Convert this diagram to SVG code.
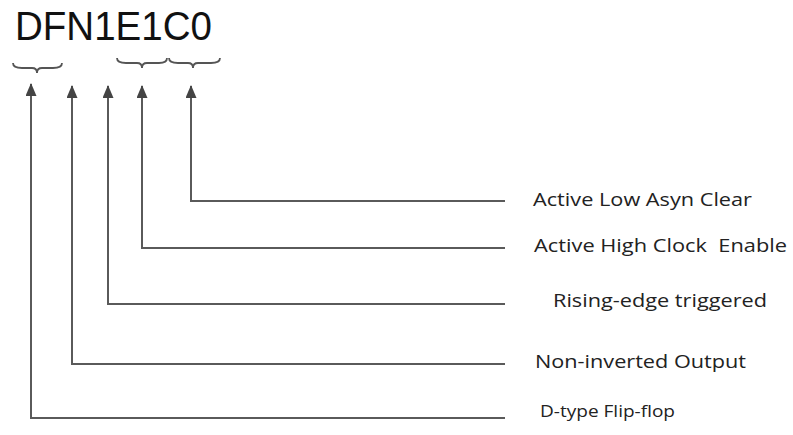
<svg xmlns="http://www.w3.org/2000/svg" width="793" height="435" viewBox="0 0 793 435">
<defs>
<style>
.ln{fill:none;stroke:#5a5a5a;stroke-width:2}
.br{fill:none;stroke:#555;stroke-width:1.8}
.lb{font-family:"Open Sans","Liberation Sans",sans-serif;fill:#222;font-size:18px}
.tt{font-family:"Liberation Sans",Arial,sans-serif;fill:#111;font-size:41px}
</style>
<marker id="ah" markerWidth="13" markerHeight="11" refX="12" refY="5.5" orient="auto" markerUnits="userSpaceOnUse" viewBox="0 0 13 11">
<path d="M0,0 L13,5.5 L0,11 Z" fill="#444"/>
</marker>
</defs>
<rect width="793" height="435" fill="#fff"/>
<g id="title">
<text class="tt" x="15" y="40" textLength="197" lengthAdjust="spacingAndGlyphs">DFN1E1C0</text>
</g>
<g id="braces">
<path class="br" d="M13,63 Q13,68 22,68 L32,68 Q37,68 37,73 Q37,68 42,68 L53,68 Q62,68 62,63"/>
<path class="br" d="M117,58 Q117,63 126,63 L137,63 Q142,63 142,68 Q142,63 147,63 L159,63 Q167,63 167,58"/>
<path class="br" d="M169,58 Q169,63 178,63 L188,63 Q193,63 193,68 Q193,63 198,63 L211,63 Q220,63 220,58"/>
</g>
<g id="connectors">
<path class="ln" d="M505,418 L31,418 L31,84" marker-end="url(#ah)"/>
<path class="ln" d="M505,364 L72,364 L72,86" marker-end="url(#ah)"/>
<path class="ln" d="M505,304 L108,304 L108,86" marker-end="url(#ah)"/>
<path class="ln" d="M505,248 L142,248 L142,86" marker-end="url(#ah)"/>
<path class="ln" d="M505,201 L191,201 L191,86" marker-end="url(#ah)"/>
</g>
<g id="label-clear"><text class="lb" x="533" y="206" textLength="219" lengthAdjust="spacingAndGlyphs">Active Low Asyn Clear</text></g>
<g id="label-enable"><text class="lb" x="534" y="252" textLength="253" lengthAdjust="spacingAndGlyphs" xml:space="preserve">Active High Clock  Enable</text></g>
<g id="label-rising"><text class="lb" x="553" y="307" textLength="214" lengthAdjust="spacingAndGlyphs">Rising-edge triggered</text></g>
<g id="label-output"><text class="lb" x="535" y="368" textLength="211" lengthAdjust="spacingAndGlyphs">Non-inverted Output</text></g>
<g id="label-dff"><text class="lb" x="540" y="417" style="font-size:16px" textLength="135" lengthAdjust="spacingAndGlyphs">D-type Flip-flop</text></g>
</svg>
